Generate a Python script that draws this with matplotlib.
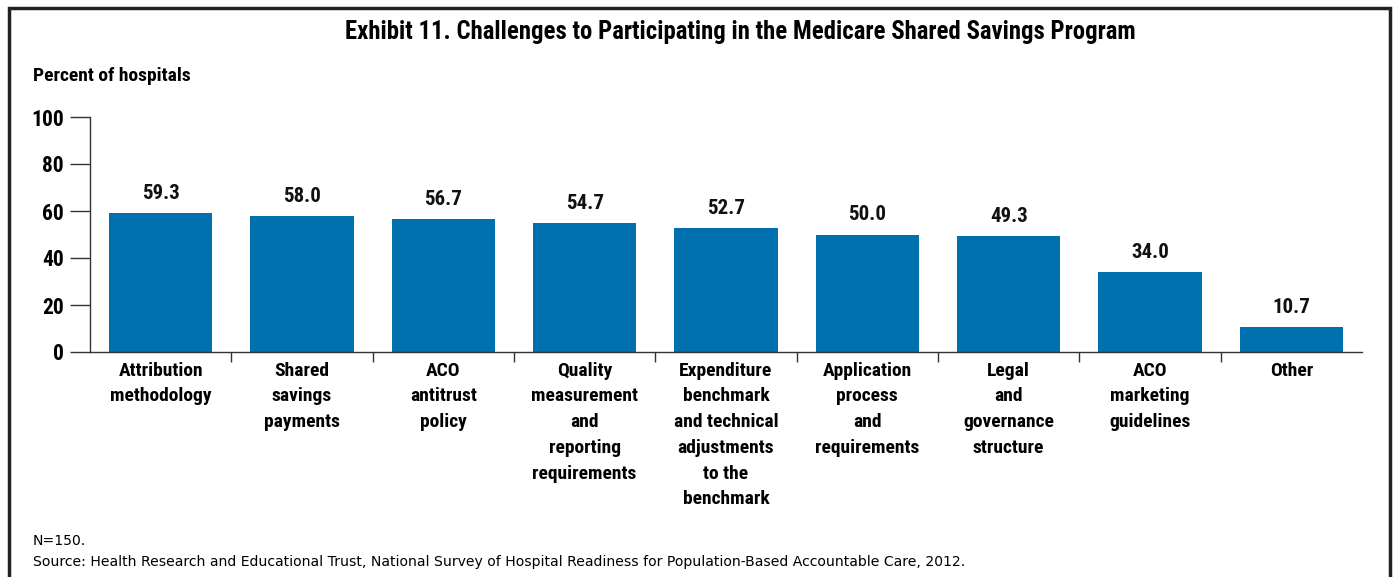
import matplotlib
matplotlib.use("Agg")
import matplotlib.pyplot as plt
from matplotlib.patches import Rectangle
from matplotlib import font_manager

categories = ["Attribution\nmethodology", "Shared\nsavings\npayments", "ACO\nantitrust\npolicy",
              "Quality\nmeasurement\nand\nreporting\nrequirements",
              "Expenditure\nbenchmark\nand technical\nadjustments\nto the\nbenchmark",
              "Application\nprocess\nand\nrequirements", "Legal\nand\ngovernance\nstructure",
              "ACO\nmarketing\nguidelines", "Other"]
values = [59.3, 58.0, 56.7, 54.7, 52.7, 50.0, 49.3, 34.0, 10.7]
yticks = [0, 20, 40, 60, 80, 100]

names = {f.name for f in font_manager.fontManager.ttflist}
cond = "DejaVu Sans"
for cand in ["Roboto Condensed", "Fira Sans Condensed", "Archivo Narrow", "PT Sans Narrow",
             "IBM Plex Sans Condensed", "Encode Sans Condensed", "Asap Condensed", "Liberation Sans Narrow"]:
    if cand in names:
        cond = cand
        break
plt.rcParams['font.family'] = [cond, 'DejaVu Sans']

W, H = 1397, 577
fig = plt.figure(figsize=(W/100, H/100), dpi=100)
ax = fig.add_axes([90/W, 1-352/H, (1362-90)/W, (352-117)/H])

x = list(range(len(values)))
ax.bar(x, values, width=0.73, color="#0070AF")
for xi, v in zip(x, values):
    ax.text(xi, v + 4.3, f"{v:.1f}", ha="center", va="bottom", fontsize=15, fontweight="bold", color="#111111")

ax.set_xlim(-0.5, len(values) - 0.5)
ax.set_ylim(0, 100)
ax.set_yticks(yticks)
ax.set_yticklabels([str(t) for t in yticks], fontsize=15.5, fontweight="bold")
ax.set_xticks([i + 0.5 for i in range(len(values) - 1)])
ax.set_xticklabels([])
ax.set_xticks(x, minor=True)
ax.set_xticklabels(categories, minor=True, fontsize=14, fontweight="bold", linespacing=1.55, va="top")
ax.tick_params(axis="x", which="major", length=7, width=1, direction="out", color="#333333")
ax.tick_params(axis="x", which="minor", length=0, pad=7)
ax.tick_params(axis="y", length=14.4, width=1, color="#333333", pad=4.3)
for s in ["top", "right"]:
    ax.spines[s].set_visible(False)
for s in ["left", "bottom"]:
    ax.spines[s].set_color("#333333")
    ax.spines[s].set_linewidth(1)

fig.text(740/W, 1-32/H, "Exhibit 11. Challenges to Participating in the Medicare Shared Savings Program",
         ha="center", va="center", fontsize=17.8, fontweight="bold")
fig.text(33/W, 1-76/H, "Percent of hospitals", ha="left", va="center", fontsize=14, fontweight="bold")
fig.text(33/W, 1-541/H, "N=150.", ha="left", va="center", fontsize=10.1, family="DejaVu Sans")
fig.text(33/W, 1-562/H,
         "Source: Health Research and Educational Trust, National Survey of Hospital Readiness for Population-Based Accountable Care, 2012.",
         ha="left", va="center", fontsize=10.1, family="DejaVu Sans")

fig.patches.append(Rectangle((9/W, -0.05), (1390-9)/W, 1-8/H + 0.05, transform=fig.transFigure,
                             fill=False, edgecolor="#222222", linewidth=2.5))

fig.savefig("out.png", dpi=100)
